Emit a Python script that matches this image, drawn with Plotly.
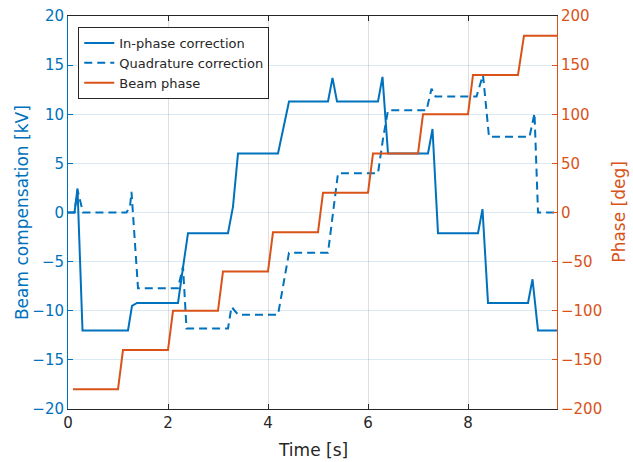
import plotly.graph_objects as go

# ---- data ----
t_inphase = [0.0, 0.13, 0.19, 0.29, 1.2, 1.28, 1.38, 2.2, 2.3, 2.4, 3.2, 3.3, 3.4,
             4.2, 4.42, 5.2, 5.29, 5.38, 6.2, 6.29, 6.4, 7.2, 7.29, 7.4, 8.2, 8.29,
             8.4, 9.2, 9.29, 9.4, 9.78]
inphase = [0.0, 0.0, 2.45, -12.0, -12.0, -9.5, -9.2, -9.2, -5.6, -2.1, -2.1, 0.6, 6.0,
           6.0, 11.3, 11.3, 13.7, 11.3, 11.3, 13.8, 6.0, 6.0, 8.5, -2.1, -2.1, 0.35,
           -9.2, -9.2, -6.8, -12.0, -12.0]

t_quad = [0.0, 0.13, 0.19, 0.24, 0.3, 1.17, 1.24, 1.27, 1.4, 2.2, 2.3, 2.37, 3.2, 3.27,
          3.4, 4.2, 4.42, 5.2, 5.4, 6.2, 6.3, 6.4, 7.17, 7.27, 7.35, 8.17, 8.3, 8.42,
          9.23, 9.33, 9.4, 9.78]
quad = [0.0, 0.0, 2.3, 1.3, 0.0, 0.0, 0.6, 2.1, -7.7, -7.7, -5.5, -11.8, -11.8, -9.6,
        -10.4, -10.4, -4.1, -4.1, 4.0, 4.0, 7.5, 10.4, 10.4, 12.6, 11.8, 11.8, 14.0, 7.7,
        7.7, 10.1, 0.0, 0.0]

t_phase = [0.1, 1.0, 1.1, 2.0, 2.1, 3.0, 3.1, 4.0, 4.1, 5.0, 5.1, 6.0, 6.1, 7.0, 7.1,
           8.0, 8.1, 9.0, 9.12, 9.78]
phase = [-180, -180, -140, -140, -100, -100, -60, -60, -20, -20, 20, 20, 60, 60, 100,
         100, 140, 140, 180, 180]

x_ticks = [0, 2, 4, 6, 8]
y1_ticks = [-20, -15, -10, -5, 0, 5, 10, 15, 20]
y2_ticks = [-200, -150, -100, -50, 0, 50, 100, 150, 200]

BLUE = "#0072BD"
ORANGE = "#D95319"
DARK = "#262626"
FONT = "DejaVu Sans, Liberation Sans, Arial, sans-serif"

fig = go.Figure()
fig.add_trace(go.Scatter(x=t_inphase, y=inphase, mode="lines", name="In-phase correction",
                         line=dict(color=BLUE, width=2)))
fig.add_trace(go.Scatter(x=t_quad, y=quad, mode="lines", name="Quadrature correction",
                         line=dict(color=BLUE, width=2, dash="8px,5px")))
fig.add_trace(go.Scatter(x=t_phase, y=phase, mode="lines", name="Beam phase",
                         line=dict(color=ORANGE, width=2), yaxis="y2"))

fig.update_layout(
    width=633, height=462,
    margin=dict(l=68, r=76, t=16, b=53, autoexpand=False),
    paper_bgcolor="white", plot_bgcolor="white",
    font=dict(family=FONT, size=15, color=DARK),
    showlegend=True,
    legend=dict(x=0.021, y=0.972, xanchor="left", yanchor="top",
                bgcolor="white", bordercolor=DARK, borderwidth=1,
                font=dict(size=13, color=DARK), tracegroupgap=0,
                itemwidth=30),
    xaxis=dict(range=[0, 9.78], tickvals=x_ticks, ticks="inside", ticklen=5,
               tickcolor=DARK, showline=True, linecolor=DARK, linewidth=1,
               mirror="ticks", showgrid=True, gridcolor="rgba(38,38,38,0.15)",
               zeroline=False, tickfont=dict(size=15, color=DARK), automargin=False),
    yaxis=dict(range=[-20, 20], tickvals=y1_ticks, ticks="inside", ticklen=5,
               tickcolor=BLUE, showline=True, linecolor=BLUE, linewidth=1,
               showgrid=True, gridcolor="rgba(0,114,189,0.15)", zeroline=False,
               tickfont=dict(size=15, color=BLUE), automargin=False),
    yaxis2=dict(range=[-200, 200], tickvals=y2_ticks, ticks="inside", ticklen=5,
                tickcolor=ORANGE, showline=True, linecolor=ORANGE, linewidth=1,
                overlaying="y", side="right", showgrid=False, zeroline=False,
                tickfont=dict(size=15, color=ORANGE), automargin=False),
    annotations=[
        dict(text="Time [s]", xref="paper", yref="paper", x=0.501, y=-0.105,
             xanchor="center", yanchor="middle", showarrow=False,
             font=dict(size=17, color=DARK)),
        dict(text="Beam compensation [kV]", xref="paper", yref="paper", x=-0.095, y=0.5,
             xanchor="center", yanchor="middle", showarrow=False, textangle=-90,
             font=dict(size=17, color=BLUE)),
        dict(text="Phase [deg]", xref="paper", yref="paper", x=1.125, y=0.5,
             xanchor="center", yanchor="middle", showarrow=False, textangle=-90,
             font=dict(size=17, color=ORANGE)),
    ],
)

fig.write_html("out.html", config={"displayModeBar": False},
               post_script="document.body.style.margin='0px';"
                           "document.body.style.overflow='hidden';")
